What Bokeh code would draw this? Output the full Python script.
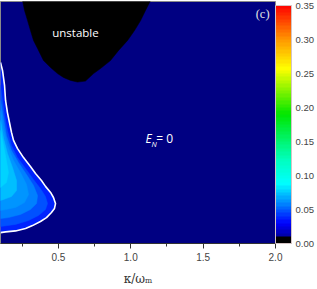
from bokeh.plotting import figure
from bokeh.models import (ColumnDataSource, LinearColorMapper, ColorBar, FixedTicker,
                          PrintfTickFormatter, Range1d, Label)
from bokeh.embed import file_html
from bokeh.resources import INLINE

# ---------------- data ----------------
X_START, X_END = 0.1, 2.0
Y_START, Y_END = 0.0, 1.0
x_ticks = [0.5, 1.0, 1.5, 2.0]
x_minor_ticks = [0.25, 0.75, 1.25, 1.75]
cbar_ticks = [0.0, 0.05, 0.10, 0.15, 0.20, 0.25, 0.30, 0.35]
CB_LOW, CB_HIGH = 0.0, 0.35

# boundary of the unstable (black) region
unstable_x = [0.252, 0.266, 0.287, 0.307, 0.328, 0.356, 0.397, 0.446, 0.494, 0.535, 0.584,
              0.632, 0.687, 0.743, 0.791, 0.860, 0.916, 0.978, 1.026, 1.068, 1.102, 1.137]
unstable_y = [1.004, 0.963, 0.921, 0.880, 0.839, 0.806, 0.756, 0.727, 0.702, 0.686, 0.674,
              0.667, 0.671, 0.702, 0.723, 0.756, 0.798, 0.839, 0.880, 0.921, 0.963, 1.004]

# E_N = 0 contour (white line) enclosing the entangled region
contour_x = [0.100, 0.114, 0.128, 0.135, 0.148, 0.162, 0.176, 0.190, 0.217, 0.259, 0.307, 0.342, 0.383,
             0.411, 0.446, 0.466, 0.480, 0.473, 0.452, 0.418, 0.376, 0.321, 0.273, 0.204, 0.135, 0.100]
contour_y = [0.748, 0.715, 0.653, 0.591, 0.541, 0.500, 0.459, 0.426, 0.393, 0.355, 0.318, 0.289, 0.260,
             0.236, 0.211, 0.190, 0.165, 0.145, 0.128, 0.107, 0.091, 0.074, 0.062, 0.052, 0.048, 0.045]

# inner contour levels of E_N
level_values = [0.038, 0.047, 0.055, 0.063, 0.070, 0.078]
level_x = [
    contour_x,
    [0.100, 0.114, 0.128, 0.148, 0.176, 0.217, 0.273, 0.328, 0.376, 0.411, 0.425, 0.411, 0.363, 0.294, 0.204, 0.100],
    [0.100, 0.121, 0.141, 0.176, 0.224, 0.280, 0.328, 0.356, 0.349, 0.307, 0.238, 0.155, 0.100],
    [0.100, 0.121, 0.148, 0.190, 0.238, 0.280, 0.294, 0.266, 0.204, 0.135, 0.100],
    [0.100, 0.121, 0.148, 0.183, 0.211, 0.211, 0.176, 0.121, 0.100],
    [0.100, 0.121, 0.141, 0.155, 0.141, 0.100],
]
level_y = [
    contour_y,
    [0.653, 0.591, 0.529, 0.467, 0.405, 0.355, 0.310, 0.264, 0.227, 0.194, 0.165, 0.140, 0.116, 0.095, 0.079, 0.070],
    [0.591, 0.517, 0.446, 0.384, 0.335, 0.285, 0.240, 0.198, 0.165, 0.140, 0.120, 0.107, 0.103],
    [0.550, 0.475, 0.405, 0.343, 0.293, 0.244, 0.202, 0.169, 0.149, 0.140, 0.136],
    [0.508, 0.434, 0.372, 0.314, 0.260, 0.219, 0.194, 0.182, 0.178],
    [0.467, 0.405, 0.343, 0.293, 0.252, 0.231],
]

# ---------------- styling ----------------
NAVY = "#000082"
X_PAD = 0.05  # off-frame x used to close the shapes on the left edge

def hex2rgb(h):
    h = h.lstrip("#")
    return tuple(int(h[i:i + 2], 16) for i in (0, 2, 4))

stops = [(0.0, "#000000"), (0.009, "#000000"), (0.012, "#0000aa"), (0.03, "#0000ff"),
         (0.058, "#0082ff"), (0.088, "#00ffff"), (0.123, "#00ffbe"), (0.19, "#00e600"),
         (0.257, "#ffff00"), (0.30, "#ff9600"), (0.35, "#ff0000")]

def color_at(v):
    for (v0, c0), (v1, c1) in zip(stops[:-1], stops[1:]):
        if v <= v1:
            t = 0 if v1 == v0 else (v - v0) / (v1 - v0)
            a, b = hex2rgb(c0), hex2rgb(c1)
            return "#%02x%02x%02x" % tuple(int(round(a[i] + (b[i] - a[i]) * t)) for i in range(3))
    return stops[-1][1]

N = 70
palette = [color_at((i + 0.5) * (CB_HIGH - CB_LOW) / N) for i in range(N)]
mapper = LinearColorMapper(palette=palette, low=CB_LOW, high=CB_HIGH)

p = figure(frame_width=275, frame_height=242, output_backend="svg", toolbar_location=None,
           x_range=Range1d(X_START, X_END), y_range=Range1d(Y_START, Y_END),
           min_border_left=0, min_border_top=1, min_border_right=0, min_border_bottom=0)
p.background_fill_color = NAVY
p.border_fill_color = "white"
p.outline_line_color = "#8a8a8a"
p.outline_line_width = 1
p.grid.visible = False
p.yaxis.visible = False

# unstable region
ux = unstable_x + [unstable_x[-1] + 0.02, unstable_x[0] - 0.02]
uy = unstable_y + [1.08, 1.08]
p.patch(ux, uy, fill_color="black", line_color="black", line_width=0.5)

# entanglement levels
xs, ys = [], []
for bx, by in zip(level_x, level_y):
    xs.append(list(bx) + [X_PAD, X_PAD])
    ys.append(list(by) + [by[-1], by[0]])
src = ColumnDataSource(dict(xs=xs, ys=ys, level=level_values))
p.patches("xs", "ys", source=src, fill_color={"field": "level", "transform": mapper},
          line_color={"field": "level", "transform": mapper}, line_width=0.5)

# white E_N = 0 contour
p.line(contour_x, contour_y, line_color="white", line_width=1.6)

# texts
p.add_layout(Label(x=0.618, y=0.872, text="unstable", text_color="white", text_font="Open Sans",
                   text_font_size="11.5px", text_align="center", text_baseline="middle"))
p.add_layout(Label(x=1.102, y=0.434, text="E", text_color="white", text_font="Open Sans",
                   text_font_size="12px", text_font_style="italic", text_baseline="alphabetic"))
p.add_layout(Label(x=1.143, y=0.412, text="N", text_color="white", text_font="Open Sans",
                   text_font_size="7.5px", text_font_style="italic", text_baseline="alphabetic"))
p.add_layout(Label(x=1.176, y=0.434, text="= 0", text_color="white", text_font="Open Sans",
                   text_font_size="12px", text_baseline="alphabetic"))
p.add_layout(Label(x=1.911, y=0.950, text="(c)", text_color="#e4e4e4", text_font="Liberation Serif",
                   text_font_size="12.5px", text_align="center", text_baseline="middle"))

# x axis
ax = p.xaxis[0]
ax.ticker = FixedTicker(ticks=x_ticks, minor_ticks=x_minor_ticks)
ax.formatter = PrintfTickFormatter(format="%.1f")
ax.axis_line_color = "#333333"
ax.major_tick_line_color = "#333333"
ax.minor_tick_line_color = "#333333"
ax.major_tick_in = 0
ax.major_tick_out = 5
ax.minor_tick_in = 0
ax.minor_tick_out = 3
ax.major_label_text_font = "Liberation Sans"
ax.major_label_text_font_size = "10px"
ax.major_label_text_color = "#444444"
ax.major_label_standoff = 4
ax.axis_label = "κ/ωₘ"
ax.axis_label_text_font = "DejaVu Serif"
ax.axis_label_text_font_style = "normal"
ax.axis_label_text_font_size = "12px"
ax.axis_label_text_color = "#333333"
ax.axis_label_standoff = 8

# colour bar
cb = ColorBar(color_mapper=mapper, ticker=FixedTicker(ticks=cbar_ticks),
              formatter=PrintfTickFormatter(format="%.2f"), width=16, height=238,
              padding=0, margin=2, label_standoff=4, major_tick_line_color=None,
              minor_tick_line_color=None,
              bar_line_color="#d4c4c4", bar_line_width=1, border_line_color=None,
              background_fill_color=None,
              major_label_text_font="Liberation Sans", major_label_text_font_size="9.5px",
              major_label_text_color="#444444", location=(0, 0))
p.add_layout(cb, "right")

open("out.html", "w").write(file_html(p, INLINE))
